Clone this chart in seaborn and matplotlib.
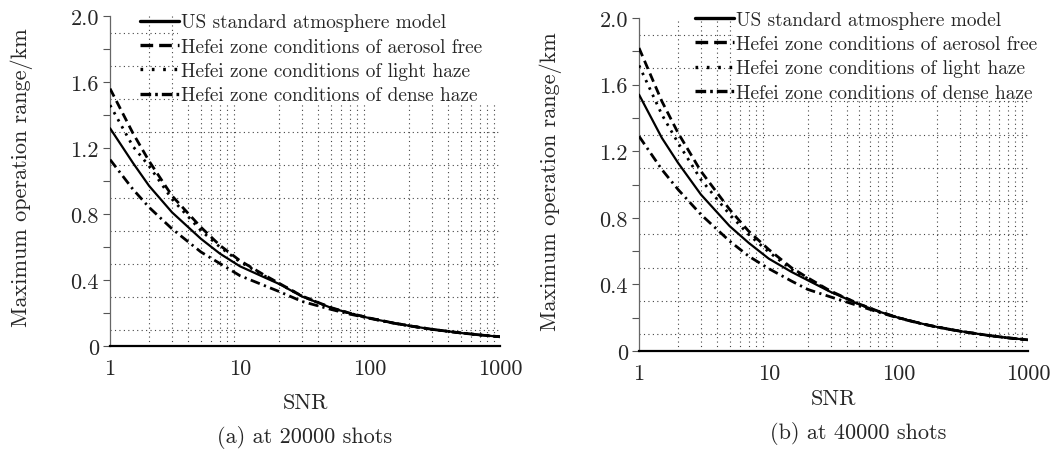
import numpy as np
import pandas as pd
import matplotlib
matplotlib.use("Agg")
import matplotlib.pyplot as plt
import matplotlib.ticker as mticker
from matplotlib.patches import Rectangle
import seaborn as sns

# SNR sample points
snr = [1, 1.5, 2, 3, 5, 7, 10, 15, 20, 30, 50, 70, 100, 150, 200, 300, 500, 700, 1000]

# (a) 20000 shots, range in km
us_20k = [1.32, 1.11, 0.97, 0.81, 0.65, 0.56, 0.483, 0.42, 0.376, 0.30, 0.232, 0.198, 0.168, 0.140, 0.123, 0.101, 0.079, 0.067, 0.056]
free_20k = [1.56, 1.29, 1.12, 0.91, 0.72, 0.61, 0.517, 0.435, 0.380, 0.303, 0.233, 0.199, 0.169, 0.140, 0.123, 0.101, 0.079, 0.067, 0.056]
light_20k = [1.46, 1.21, 1.09, 0.89, 0.70, 0.60, 0.510, 0.430, 0.378, 0.302, 0.232, 0.198, 0.168, 0.140, 0.123, 0.101, 0.079, 0.067, 0.056]
dense_20k = [1.13, 0.95, 0.84, 0.71, 0.57, 0.50, 0.426, 0.37, 0.330, 0.270, 0.222, 0.193, 0.167, 0.139, 0.122, 0.101, 0.079, 0.067, 0.056]

# (b) 40000 shots
us_40k = [1.54, 1.28, 1.13, 0.94, 0.75, 0.65, 0.555, 0.475, 0.425, 0.355, 0.280, 0.238, 0.200, 0.165, 0.144, 0.119, 0.093, 0.079, 0.067]
free_40k = [1.82, 1.50, 1.31, 1.08, 0.85, 0.72, 0.61, 0.50, 0.440, 0.360, 0.282, 0.239, 0.200, 0.165, 0.144, 0.119, 0.093, 0.079, 0.067]
light_40k = [1.715, 1.42, 1.25, 1.03, 0.82, 0.70, 0.595, 0.49, 0.435, 0.357, 0.281, 0.238, 0.200, 0.165, 0.144, 0.119, 0.093, 0.079, 0.067]
dense_40k = [1.29, 1.09, 0.97, 0.82, 0.66, 0.57, 0.495, 0.42, 0.370, 0.325, 0.270, 0.234, 0.198, 0.164, 0.143, 0.118, 0.093, 0.079, 0.067]

labels = ["US standard atmosphere model",
          "Hefei zone conditions of aerosol free",
          "Hefei zone conditions of light haze",
          "Hefei zone conditions of dense haze"]
styles = ["-", (0, (3.2, 1.8)), (0, (0.9, 2.0)), (0, (3.5, 1.6, 0.8, 1.6))]
# the legend samples use a coarser pattern than the curves
legend_styles = ["-", (0, (3.8, 1.8)), (0, (0.8, 2.6)), (0, (3.2, 1.2, 0.8, 1.2))]
widths = [1.6, 2.0, 2.0, 2.0]
captions = ["(a) at 20000 shots", "(b) at 40000 shots"]

sns.set_style("ticks")
plt.rcParams["font.family"] = ["cmr10", "DejaVu Serif"]
plt.rcParams["mathtext.fontset"] = "cm"
plt.rcParams["axes.formatter.use_mathtext"] = True

fig = plt.figure(figsize=(10.5, 4.52), dpi=100)
ax1 = fig.add_axes([0.1048, 0.2323, 0.3714, 0.730])
ax2 = fig.add_axes([0.6086, 0.2212, 0.3705, 0.7367])

# axes, curves, white box under legend text, legend anchor, label positions
panels = [
    (ax1, [us_20k, free_20k, light_20k, dense_20k], (0.174, 0.735), (0.077, 1.008), -0.197, -0.142),
    (ax2, [us_40k, free_40k, light_40k, dense_40k], (0.242, 0.755), (0.144, 1.022), -0.198, -0.114),
]

for ax, series, box, leg_anchor, ylab_x, xlab_y in panels:
    for lab, vals, ls, lw in zip(labels, series, styles, widths):
        df = pd.DataFrame({"SNR": snr, "range": vals})
        sns.lineplot(data=df, x="SNR", y="range", ax=ax, color="black",
                     linewidth=lw, linestyle=ls, label=lab, zorder=3)
    ax.set_xscale("log")
    ax.set_xlim(1, 1000)
    ax.set_ylim(0, 2.0)

    ax.xaxis.set_major_locator(mticker.FixedLocator([1, 10, 100, 1000]))
    ax.xaxis.set_major_formatter(mticker.FixedFormatter(["1", "10", "100", "1000"]))
    ax.xaxis.set_minor_locator(mticker.LogLocator(base=10, subs=np.arange(2, 10)))
    ax.xaxis.set_minor_formatter(mticker.NullFormatter())

    ax.yaxis.set_major_locator(mticker.FixedLocator(np.arange(0, 2.01, 0.2)))
    ax.yaxis.set_major_formatter(mticker.FuncFormatter(
        lambda v, p: ("0" if abs(v) < 1e-9 else f"{v:.1f}") if round(v * 10) % 4 == 0 else ""))
    ax.yaxis.set_minor_locator(mticker.FixedLocator(np.arange(0.1, 2.0, 0.2)))

    ax.tick_params(axis="x", which="both", length=0, pad=9, labelsize=16)
    ax.tick_params(axis="y", which="major", length=5, width=0.8, color="#555555",
                   direction="out", labelsize=16, pad=3)
    ax.tick_params(axis="y", which="minor", length=0)

    ax.set_axisbelow(True)
    ax.grid(which="minor", linestyle=(0, (1, 3)), linewidth=0.8, color="#444444")
    ax.grid(which="major", visible=False)

    sns.despine(ax=ax)
    ax.spines["left"].set_color("#666666")
    ax.spines["left"].set_linewidth(0.9)
    ax.spines["bottom"].set_color("black")
    ax.spines["bottom"].set_linewidth(1.6)

    ax.set_xlabel("SNR", fontsize=16)
    ax.set_ylabel("Maximum operation range/km", fontsize=16)
    ax.yaxis.set_label_coords(ylab_x, 0.512)
    ax.xaxis.set_label_coords(0.5, xlab_y)

    # white area behind the legend text, like the original
    ax.add_patch(Rectangle((box[0], box[1]), 1 - box[0], 1.0 - box[1] + 0.01,
                           transform=ax.transAxes, facecolor="white",
                           edgecolor="none", zorder=1, clip_on=False))

    leg = ax.legend(loc="upper left", bbox_to_anchor=leg_anchor, frameon=False,
                    fontsize=13.9, handlelength=2.0, handletextpad=0.1,
                    labelspacing=0.33, borderpad=0, borderaxespad=0)
    for h, ls in zip(leg.get_lines(), legend_styles):
        h.set_linewidth(2.4)
        h.set_linestyle(ls)

fig.text(0.2905, 0.033, captions[0], ha="center", va="center", fontsize=16)
fig.text(0.817, 0.042, captions[1], ha="center", va="center", fontsize=16)

plt.savefig("out.png", dpi=100)
plt.close()
